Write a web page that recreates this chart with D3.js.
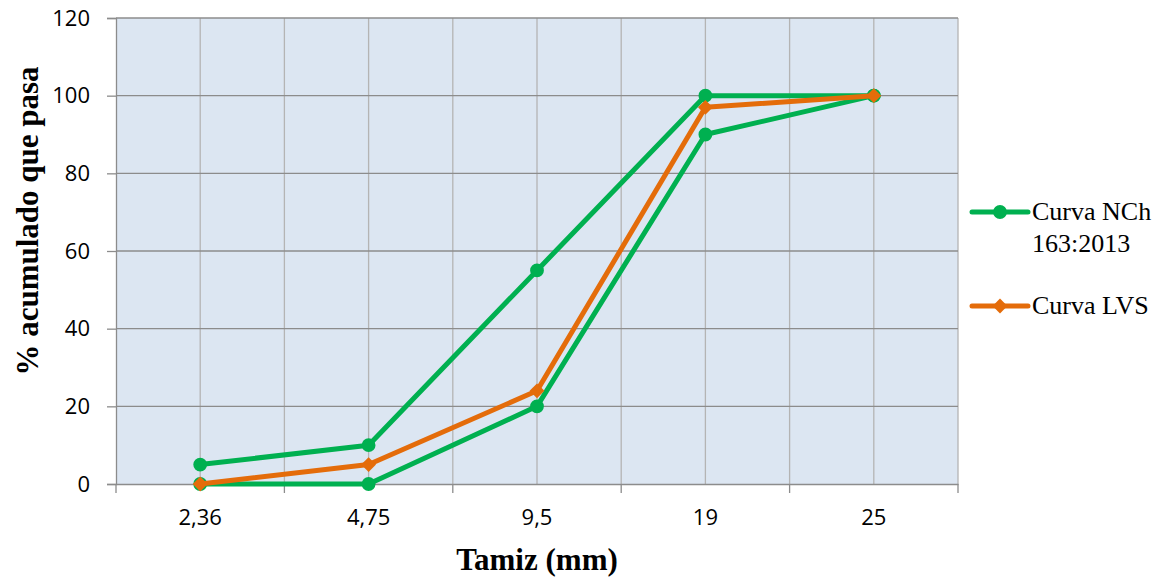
<!DOCTYPE html>
<html>
<head>
<meta charset="utf-8">
<script src="https://cdn.jsdelivr.net/npm/d3@7"></script>
<style>
  body { margin: 0; background: #fff; }
  svg { display: block; }
</style>
</head>
<body>
<svg id="chart" width="1160" height="577"></svg>
<script>
// data
const sieves = ["2,36", "4,75", "9,5", "19", "25"];
const nchUpper = [5, 10, 55, 100, 100];
const nchLower = [0, 0, 20, 90, 100];
const lvs = [0, 5, 24, 97, 100];
const yTicks = [0, 20, 40, 60, 80, 100, 120];

const green = "#00B050";
const orange = "#E46C0A";
const sans = "'Open Sans', 'Liberation Sans', sans-serif";
const serif = "'Liberation Serif', 'Times New Roman', serif";

const svg = d3.select("#chart");
const margin = { top: 18, right: 202, bottom: 93, left: 116 };
const width = 1160 - margin.left - margin.right;
const height = 577 - margin.top - margin.bottom;

const chart = svg.append("g")
    .attr("transform", `translate(${margin.left},${margin.top})`);

const x = d3.scaleBand().domain(sieves).range([0, width]);
const y = d3.scaleLinear().domain([0, 120]).range([height, 0]);
const xc = d => x(d) + x.bandwidth() / 2;

// plot background
chart.append("rect")
    .attr("width", width)
    .attr("height", height)
    .attr("fill", "#DCE6F2");

// vertical gridlines at category centres and boundaries
const vLines = [];
sieves.forEach(s => { vLines.push(x(s)); vLines.push(xc(s)); });
vLines.push(width);
chart.selectAll(".vgrid")
    .data(vLines.slice(1))
    .enter().append("line")
    .attr("x1", d => d).attr("x2", d => d)
    .attr("y1", 0).attr("y2", height)
    .attr("stroke", "#B4B4B4")
    .attr("stroke-width", 1.3);

// horizontal gridlines
chart.selectAll(".hgrid")
    .data(yTicks.slice(1))
    .enter().append("line")
    .attr("x1", 0).attr("x2", width)
    .attr("y1", d => y(d)).attr("y2", d => y(d))
    .attr("stroke", "#8C8C8C")
    .attr("stroke-width", 1.3);

// y axis
const yAxis = d3.axisLeft(y).tickValues(yTicks).tickSize(9).tickPadding(17);
const gy = chart.append("g").call(yAxis);
gy.select(".domain").attr("stroke", "#8C8C8C").attr("stroke-width", 1.3);
gy.selectAll(".tick line").attr("stroke", "#8C8C8C").attr("stroke-width", 1.3);
gy.selectAll("text")
    .style("font-family", sans)
    .style("font-size", "22px")
    .attr("fill", "#000");

// x axis: ticks on category boundaries
const xAxis = d3.axisBottom(x).tickSize(0).tickPadding(25);
const gx = chart.append("g")
    .attr("transform", `translate(0,${height})`)
    .call(xAxis);
gx.select(".domain").attr("stroke", "#8C8C8C").attr("stroke-width", 1.3);
gx.selectAll("text")
    .style("font-family", sans)
    .style("font-size", "22px")
    .attr("fill", "#000");
const bounds = sieves.map(s => x(s)).concat([width]);
gx.selectAll(".bt")
    .data(bounds)
    .enter().append("line")
    .attr("x1", d => d).attr("x2", d => d)
    .attr("y1", 0).attr("y2", 9)
    .attr("stroke", "#8C8C8C")
    .attr("stroke-width", 1.3);

// series
const line = d3.line().x((d, i) => xc(sieves[i])).y(d => y(d));
const series = [
    { values: nchUpper, color: green, marker: "circle" },
    { values: nchLower, color: green, marker: "circle" },
    { values: lvs, color: orange, marker: "diamond" }
];
const circleSym = d3.symbol().type(d3.symbolCircle).size(150);
const diamondSym = d3.symbol().type(d3.symbolSquare).size(110);
const markerPath = m => m === "circle" ? circleSym() : diamondSym();
const markerRot = m => m === "circle" ? "" : " rotate(45)";

series.forEach(s => {
    chart.append("path")
        .datum(s.values)
        .attr("d", line)
        .attr("fill", "none")
        .attr("stroke", s.color)
        .attr("stroke-width", 5)
        .attr("stroke-linejoin", "round");
    chart.selectAll(null)
        .data(s.values)
        .enter().append("path")
        .attr("transform", (d, i) => `translate(${xc(sieves[i])},${y(d)})` + markerRot(s.marker))
        .attr("d", markerPath(s.marker))
        .attr("fill", s.color);
});

// axis titles
svg.append("text")
    .attr("x", margin.left + width / 2)
    .attr("y", 570)
    .attr("text-anchor", "middle")
    .style("font-family", serif)
    .style("font-weight", "bold")
    .style("font-size", "31px")
    .text("Tamiz (mm)");

svg.append("text")
    .attr("transform", "translate(38,221) rotate(-90)")
    .attr("text-anchor", "middle")
    .style("font-family", serif)
    .style("font-weight", "bold")
    .style("font-size", "31px")
    .text("% acumulado que pasa");

// legend
const legend = svg.append("g").attr("transform", "translate(972,0)");
const legendItems = [
    { lines: ["Curva NCh", "163:2013"], color: green, marker: "circle", y: 212 },
    { lines: ["Curva LVS"], color: orange, marker: "diamond", y: 306 }
];
legendItems.forEach(it => {
    legend.append("line")
        .attr("x1", 0).attr("x2", 56)
        .attr("y1", it.y).attr("y2", it.y)
        .attr("stroke", it.color)
        .attr("stroke-width", 5)
        .attr("stroke-linecap", "round");
    legend.append("path")
        .attr("transform", `translate(28,${it.y})` + markerRot(it.marker))
        .attr("d", markerPath(it.marker))
        .attr("fill", it.color);
    const t = legend.append("text")
        .attr("x", 60)
        .attr("y", it.y + 8)
        .style("font-family", serif)
        .style("font-size", "26px");
    it.lines.forEach((l, i) => {
        t.append("tspan").attr("x", 60).attr("dy", i === 0 ? 0 : 32).text(l);
    });
});
</script>
</body>
</html>
